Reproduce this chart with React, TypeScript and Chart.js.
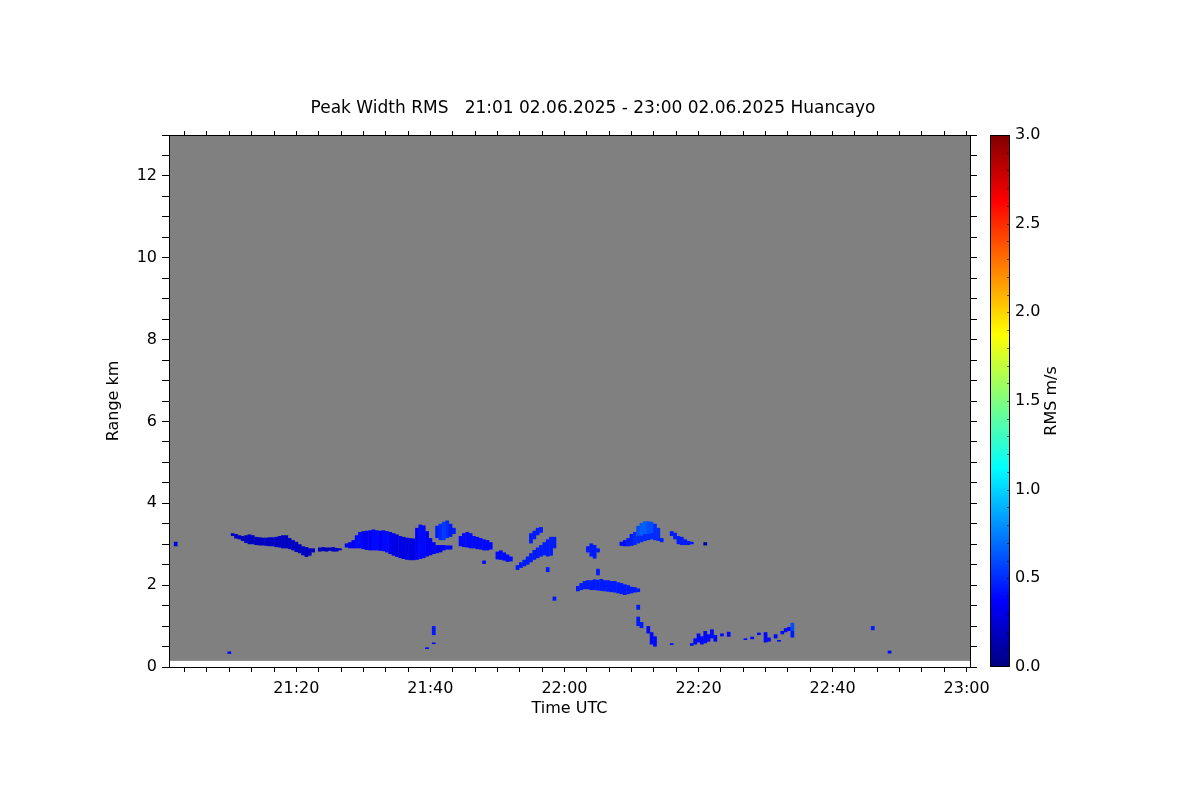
import { useEffect, useRef } from 'react';
import { Chart, registerables } from 'chart.js';

Chart.register(...registerables);
Chart.defaults.font.family = "'DejaVu Sans', sans-serif";
Chart.defaults.color = '#000';

// ---------------- data ----------------
const chartTitle = 'Peak Width RMS   21:01 02.06.2025 - 23:00 02.06.2025 Huancayo';
const xTitle = 'Time UTC';
const yTitle = 'Range km';
const colorbarTitle = 'RMS m/s';

// time axis in minutes after 21:00 UTC
const timeStart = 1;
const timeEnd = 120.5;
const timeTickLabels: Record<number, string> = {
  20: '21:20', 40: '21:40', 60: '22:00', 80: '22:20', 100: '22:40', 120: '23:00',
};
const timeMinorStep = 10 / 3;
const rangeMin = 0;
const rangeMax = 13;
const rangeStep = 0.5;
const firstGate = 0.15; // lowest measured range (km)
const rmsMin = 0;
const rmsMax = 3;
const rmsStep = 0.5;

// echo columns: [time (min after 21:00), range bottom (km), range top (km), RMS (m/s)]
const echo2101 = [[2, 2.95, 3.06, 0.3]];

const cloud2110 = [
  [10.5, 3.2, 3.27, 0.2], [11, 3.14, 3.25, 0.2], [11.5, 3.12, 3.22, 0.2], [12, 3.08, 3.2, 0.2],
  [12.5, 3.03, 3.22, 0.2], [13, 3.0, 3.24, 0.2], [13.5, 3.0, 3.22, 0.2], [14, 2.98, 3.18, 0.2],
  [14.5, 2.97, 3.17, 0.2], [15, 2.97, 3.16, 0.2], [15.5, 2.96, 3.16, 0.2], [16, 2.95, 3.17, 0.2],
  [16.5, 2.95, 3.17, 0.2], [17, 2.93, 3.18, 0.2], [17.5, 2.92, 3.2, 0.2], [18, 2.9, 3.22, 0.2],
  [18.5, 2.9, 3.22, 0.2], [19, 2.88, 3.15, 0.2], [19.5, 2.85, 3.1, 0.2], [20, 2.81, 3.06, 0.2],
  [20.5, 2.78, 3.0, 0.2], [21, 2.73, 2.95, 0.2], [21.5, 2.69, 2.93, 0.2], [22, 2.72, 2.9, 0.2],
  [22.5, 2.8, 2.9, 0.2], [23.5, 2.82, 2.92, 0.2], [24, 2.83, 2.93, 0.2], [24.5, 2.82, 2.92, 0.2],
  [25, 2.84, 2.92, 0.2], [25.5, 2.82, 2.93, 0.2], [26, 2.82, 2.91, 0.2], [26.5, 2.85, 2.9, 0.2],
];

const cloud2127 = [
  [27.5, 2.92, 3.02, 0.35], [28, 2.9, 3.05, 0.35], [28.5, 2.9, 3.1, 0.35], [29, 2.9, 3.22, 0.4],
  [29.5, 2.9, 3.3, 0.4], [30, 2.88, 3.32, 0.35], [30.5, 2.86, 3.33, 0.35], [31, 2.85, 3.34, 0.35],
  [31.5, 2.85, 3.36, 0.4], [32, 2.85, 3.34, 0.4], [32.5, 2.84, 3.33, 0.35], [33, 2.83, 3.34, 0.4],
  [33.5, 2.8, 3.32, 0.4], [34, 2.76, 3.3, 0.35], [34.5, 2.72, 3.27, 0.3], [35, 2.69, 3.24, 0.3],
  [35.5, 2.66, 3.2, 0.3], [36, 2.64, 3.18, 0.3], [36.5, 2.62, 3.16, 0.3], [37, 2.61, 3.15, 0.3],
  [37.5, 2.61, 3.14, 0.3], [38, 2.62, 3.4, 0.35], [38.5, 2.64, 3.48, 0.4], [39, 2.66, 3.46, 0.4],
  [39.5, 2.7, 3.32, 0.35], [40, 2.73, 3.15, 0.35], [40.5, 2.76, 3.05, 0.35], [41, 2.78, 2.98, 0.35],
  [41.5, 2.8, 2.98, 0.35], [42, 2.85, 2.98, 0.35], [42.5, 2.87, 2.97, 0.4], [43, 2.87, 2.97, 0.4],
  [41, 3.15, 3.45, 0.45], [41.5, 3.1, 3.5, 0.5], [42, 3.1, 3.55, 0.55], [42.5, 3.15, 3.58, 0.5],
  [43, 3.18, 3.5, 0.45], [43.5, 3.25, 3.4, 0.45],
];

const cloud2144 = [
  [44.5, 2.95, 3.2, 0.4], [45, 2.93, 3.27, 0.4], [45.5, 2.92, 3.3, 0.4], [46, 2.9, 3.27, 0.4],
  [46.5, 2.9, 3.2, 0.4], [47, 2.88, 3.18, 0.4], [47.5, 2.87, 3.15, 0.4], [48, 2.85, 3.12, 0.4],
  [48, 2.52, 2.6, 0.4], [48.5, 2.85, 3.1, 0.4], [49, 2.87, 3.05, 0.4],
  [50, 2.63, 2.82, 0.4], [50.5, 2.62, 2.85, 0.4], [51, 2.6, 2.8, 0.4], [51.5, 2.57, 2.75, 0.4],
  [52, 2.58, 2.7, 0.4],
];

const streaks2153 = [
  [53, 2.37, 2.49, 0.45], [53.5, 2.42, 2.56, 0.45], [54, 2.46, 2.62, 0.45], [54.5, 2.5, 2.7, 0.45],
  [55, 2.56, 2.78, 0.45], [55.5, 2.62, 2.86, 0.45], [56, 2.66, 2.92, 0.45], [56.5, 2.7, 2.98, 0.45],
  [57, 2.73, 3.05, 0.45], [57.5, 2.7, 3.12, 0.45], [58, 2.72, 3.18, 0.45], [58.5, 2.9, 3.18, 0.45],
  [55, 3.02, 3.27, 0.45], [55.5, 3.12, 3.33, 0.45], [56, 3.22, 3.4, 0.45], [56.5, 3.28, 3.42, 0.45],
  [57.5, 2.32, 2.44, 0.45], [58.5, 1.62, 1.72, 0.45],
];

const cloud2203 = [
  [63.5, 2.8, 2.95, 0.45], [64, 2.7, 3.02, 0.45], [64.5, 2.65, 2.98, 0.45], [65, 2.8, 2.9, 0.45],
];

const layer2202 = [
  [62, 1.85, 1.98, 0.45], [62.5, 1.88, 2.05, 0.45], [63, 1.9, 2.1, 0.45], [63.5, 1.9, 2.12, 0.45],
  [64, 1.88, 2.12, 0.45], [64.5, 1.88, 2.14, 0.45], [65, 1.87, 2.13, 0.45], [65, 2.24, 2.4, 0.45],
  [65.5, 1.86, 2.15, 0.45], [66, 1.85, 2.12, 0.45], [66.5, 1.84, 2.12, 0.45], [67, 1.83, 2.1, 0.45],
  [67.5, 1.82, 2.1, 0.45], [68, 1.8, 2.07, 0.45], [68.5, 1.78, 2.05, 0.45], [69, 1.76, 2.02, 0.45],
  [69.5, 1.78, 2.0, 0.45], [70, 1.8, 1.96, 0.45], [70.5, 1.82, 1.95, 0.45], [71, 1.83, 1.92, 0.45],
  [71, 1.4, 1.52, 0.45], [71, 1.0, 1.23, 0.45], [71.5, 0.95, 1.1, 0.45],
];

const cloud2208 = [
  [68.5, 2.96, 3.06, 0.4], [69, 2.95, 3.1, 0.4], [69.5, 2.95, 3.15, 0.45], [70, 2.96, 3.25, 0.45],
  [70.5, 2.98, 3.3, 0.5], [71, 3.02, 3.2, 0.5], [71, 3.2, 3.45, 0.6], [71.5, 3.05, 3.22, 0.5],
  [71.5, 3.22, 3.52, 0.65], [72, 3.08, 3.25, 0.5], [72, 3.25, 3.56, 0.65], [72.5, 3.1, 3.25, 0.5],
  [72.5, 3.25, 3.56, 0.6], [73, 3.12, 3.28, 0.5], [73, 3.28, 3.55, 0.6], [73.5, 3.1, 3.5, 0.5],
  [74, 3.08, 3.4, 0.5], [74.5, 3.05, 3.15, 0.45],
];

const cloud2216 = [
  [76, 3.2, 3.32, 0.45], [76.5, 3.12, 3.28, 0.45], [77, 3.0, 3.2, 0.45], [77.5, 2.98, 3.18, 0.45],
  [78, 2.98, 3.12, 0.45], [78.5, 2.98, 3.08, 0.45], [79, 3.0, 3.06, 0.45], [81, 2.97, 3.05, 0.1],
];

const lowEchoes = [
  [10, 0.32, 0.38, 0.4], [39.5, 0.44, 0.48, 0.4], [40.5, 0.56, 0.6, 0.4], [40.5, 0.78, 1.0, 0.45],
  [72.5, 0.82, 1.0, 0.4], [73, 0.55, 0.85, 0.4], [73.5, 0.5, 0.75, 0.4], [76, 0.54, 0.58, 0.4],
  [79, 0.52, 0.58, 0.4], [79.5, 0.55, 0.7, 0.4], [80, 0.6, 0.82, 0.4], [80.5, 0.55, 0.75, 0.4],
  [81, 0.58, 0.88, 0.4], [81.5, 0.62, 0.8, 0.4], [82, 0.7, 0.92, 0.4], [82.5, 0.62, 0.78, 0.4],
  [83.5, 0.75, 0.82, 0.4], [84.5, 0.74, 0.86, 0.4], [87, 0.66, 0.7, 0.4], [88, 0.68, 0.74, 0.4],
  [89, 0.78, 0.84, 0.4], [90, 0.6, 0.85, 0.4], [90.5, 0.62, 0.72, 0.4], [91.5, 0.7, 0.8, 0.4],
  [92, 0.62, 0.66, 0.4], [92.5, 0.8, 0.88, 0.4], [93, 0.85, 0.95, 0.4], [93.5, 0.88, 0.98, 0.4],
  [94, 0.72, 0.88, 0.45], [94, 0.88, 1.08, 0.6], [106, 0.9, 1.0, 0.45], [108.5, 0.33, 0.4, 0.4],
];

// jet colour map knots: [fraction, colour]
const jetStops: [number, string][] = [
  [0, 'rgb(0,0,128)'], [0.125, 'rgb(0,0,255)'], [0.375, 'rgb(0,255,255)'],
  [0.625, 'rgb(255,255,0)'], [0.875, 'rgb(255,0,0)'], [1, 'rgb(128,0,0)'],
];

function jet(v: number): string {
  const f = Math.min(1, Math.max(0, (v - rmsMin) / (rmsMax - rmsMin)));
  const c = (k: number) => Math.round(255 * Math.min(1, Math.max(0, 1.5 - Math.abs(4 * f - k))));
  return `rgb(${c(3)},${c(2)},${c(1)})`;
}

const allEchoes = [
  ...echo2101, ...cloud2110, ...cloud2127, ...cloud2144, ...streaks2153,
  ...cloud2203, ...layer2202, ...cloud2208, ...cloud2216, ...lowEchoes,
];

const minorTimeTicks: number[] = [];
for (let k = 1; k * timeMinorStep <= timeEnd; k++) minorTimeTicks.push(k * timeMinorStep);

function timeLabel(v: number): string {
  const r = Math.round(v);
  if (Math.abs(v - r) < 1e-6 && timeTickLabels[r]) return timeTickLabels[r];
  return '';
}

const noDataPlugin = {
  id: 'noDataBackground',
  beforeDraw(chart: any) {
    const { ctx, scales } = chart;
    const x = scales.x, y = scales.y;
    const x0 = x.getPixelForValue(timeStart);
    const x1 = x.getPixelForValue(timeEnd);
    const y0 = y.getPixelForValue(firstGate);
    const y1 = y.getPixelForValue(rangeMax);
    ctx.save();
    ctx.fillStyle = '#808080';
    ctx.fillRect(x0, y1, x1 - x0, y0 - y1);
    ctx.restore();
  },
};

const colorbarPlugin = {
  id: 'colorbar',
  afterDraw(chart: any) {
    const { ctx, chartArea: a, scales } = chart;
    const y = scales.y;
    const yb = y.getPixelForValue(rmsMin);
    const yt = y.getPixelForValue(rmsMax);
    const g = ctx.createLinearGradient(0, yb, 0, yt);
    jetStops.forEach(([f, c]) => g.addColorStop(f, c));
    ctx.save();
    ctx.fillStyle = g;
    ctx.fillRect(a.left, yt, a.right - a.left, yb - yt);
    ctx.strokeStyle = '#000';
    ctx.lineWidth = 1;
    ctx.strokeRect(a.left + 0.5, yt + 0.5, a.right - a.left - 1, yb - yt - 1);
    ctx.strokeStyle = 'rgba(0,0,0,0.55)';
    for (let k = 1; k < 30; k++) {
      const py = Math.round(y.getPixelForValue(rmsMin + k * 0.1)) + 0.5;
      ctx.beginPath();
      ctx.moveTo(a.right - 3, py);
      ctx.lineTo(a.right - 1, py);
      ctx.stroke();
    }
    ctx.fillStyle = '#000';
    ctx.font = "16px 'DejaVu Sans', sans-serif";
    ctx.textAlign = 'center';
    ctx.textBaseline = 'middle';
    ctx.translate(a.right + 42, (a.top + a.bottom) / 2);
    ctx.rotate(-Math.PI / 2);
    ctx.fillText(colorbarTitle, 0, 0);
    ctx.restore();
  },
};

export default function App() {
  const mainRef = useRef<HTMLCanvasElement>(null);
  const barRef = useRef<HTMLCanvasElement>(null);

  useEffect(() => {
    const xCommon = {
      type: 'linear',
      min: timeStart,
      max: timeEnd,
      offset: false,
      afterBuildTicks: (s: any) => { s.ticks = minorTimeTicks.map((v) => ({ value: v })); },
    };
    const main = new Chart(mainRef.current!, {
      type: 'bar',
      data: {
        datasets: [
          {
            data: allEchoes.map(([t, lo, hi, v]) => ({ x: t, y: [lo, hi], v })) as any,
            backgroundColor: (ctx: any) => jet(ctx.raw ? ctx.raw.v : 0),
            borderWidth: 0,
            grouped: false,
            categoryPercentage: 1,
            barPercentage: 1.12,
            xAxisID: 'x',
            yAxisID: 'y',
          } as any,
        ],
      },
      options: {
        responsive: false,
        animation: false,
        layout: { padding: { left: 100, right: 114, top: 0, bottom: 78 } },
        plugins: {
          legend: { display: false },
          tooltip: { enabled: false },
          title: {
            display: true,
            text: chartTitle,
            color: '#000',
            font: { size: 17, weight: 'normal' },
            padding: { top: 98, bottom: 0 },
          },
        },
        scales: {
          x: {
            ...xCommon,
            position: 'bottom',
            ticks: { autoSkip: false, maxRotation: 0, padding: 7, font: { size: 16 }, callback: (v: any) => timeLabel(Number(v)) },
            grid: { offset: false, drawOnChartArea: false, drawTicks: true, tickLength: 5, color: '#000' },
            border: { display: true, color: '#000' },
            title: { display: true, text: xTitle, font: { size: 16 }, padding: { top: 0, bottom: 4 } },
            afterFit: (s: any) => { s.height = 55; },
          },
          xTop: {
            ...xCommon,
            position: 'top',
            ticks: { display: false },
            grid: { offset: false, drawOnChartArea: false, drawTicks: true, tickLength: 4, color: '#000' },
            border: { display: true, color: '#000' },
            afterFit: (s: any) => { s.height = 16.6; },
          },
          y: {
            type: 'linear',
            position: 'left',
            min: rangeMin,
            max: rangeMax,
            ticks: {
              stepSize: rangeStep, autoSkip: false, padding: 5, font: { size: 16 },
              callback: (v: any) => (Number(v) % 2 === 0 ? String(v) : ''),
            },
            grid: { drawOnChartArea: false, drawTicks: true, tickLength: 7, color: '#000' },
            border: { display: true, color: '#000' },
            title: { display: true, text: yTitle, font: { size: 16 }, padding: { top: 4, bottom: 0 } },
            afterFit: (s: any) => { s.width = 69; },
          },
          yRight: {
            type: 'linear',
            position: 'right',
            min: rangeMin,
            max: rangeMax,
            ticks: { display: false, stepSize: rangeStep },
            grid: { drawOnChartArea: false, drawTicks: true, tickLength: 7, color: '#000' },
            border: { display: true, color: '#000' },
            afterFit: (s: any) => { s.width = 116; },
          },
        },
      } as any,
      plugins: [noDataPlugin],
    });

    const bar = new Chart(barRef.current!, {
      type: 'scatter',
      data: { datasets: [] },
      options: {
        responsive: false,
        animation: false,
        layout: { padding: { left: 20, right: 0, top: 135, bottom: 133 } },
        plugins: { legend: { display: false }, tooltip: { enabled: false }, title: { display: false } },
        scales: {
          x: { display: false },
          y: {
            type: 'linear',
            position: 'right',
            min: rmsMin,
            max: rmsMax,
            ticks: { stepSize: rmsStep, padding: 5, font: { size: 16 }, callback: (v: any) => Number(v).toFixed(1) },
            grid: { drawOnChartArea: false, drawTicks: false },
            border: { display: false },
            afterFit: (s: any) => { s.width = 90; },
          },
        },
      } as any,
      plugins: [colorbarPlugin],
    });

    return () => {
      main.destroy();
      bar.destroy();
    };
  }, []);

  return (
    <div style={{ position: 'absolute', left: 0, top: 0, width: 1200, height: 800, background: '#fff' }}>
      <canvas ref={mainRef} width={1200} height={800} style={{ position: 'absolute', left: 0, top: 0 }} />
      <canvas ref={barRef} width={130} height={800} style={{ position: 'absolute', left: 970, top: 0 }} />
    </div>
  );
}
